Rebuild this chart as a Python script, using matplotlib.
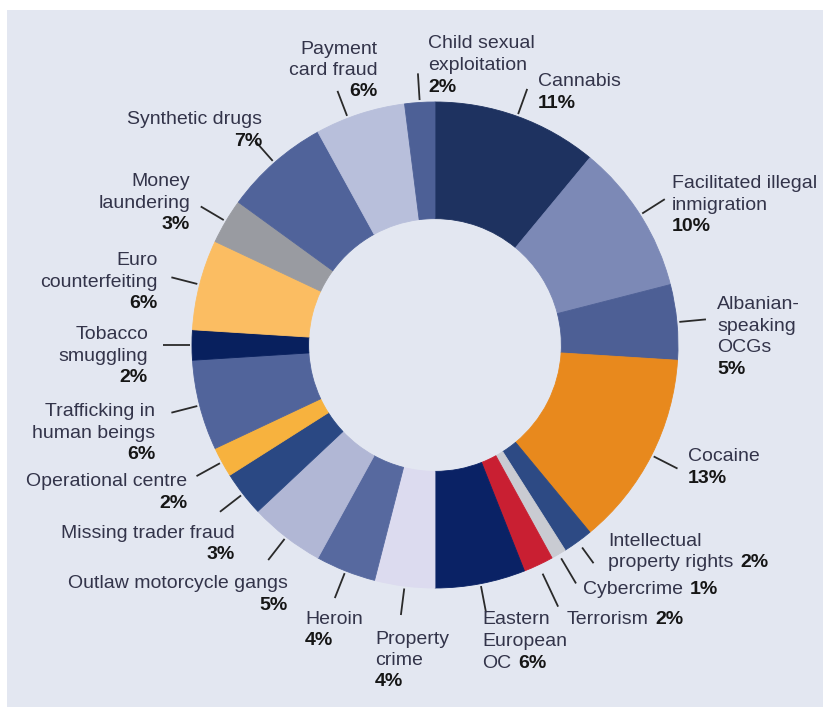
import numpy as np
import matplotlib
matplotlib.use("Agg")
import matplotlib.pyplot as plt
from matplotlib.patches import Rectangle

# ---------------- data ----------------
categories = [
    "Cannabis", "Facilitated illegal\ninmigration", "Albanian-\nspeaking\nOCGs", "Cocaine",
    "Intellectual\nproperty rights", "Cybercrime", "Terrorism", "Eastern\nEuropean\nOC",
    "Property\ncrime", "Heroin", "Outlaw motorcycle gangs", "Missing trader fraud",
    "Operational centre", "Trafficking in\nhuman beings", "Tobacco\nsmuggling",
    "Euro\ncounterfeiting", "Money\nlaundering", "Synthetic drugs", "Payment\ncard fraud",
    "Child sexual\nexploitation",
]
shares = [11, 10, 5, 13, 2, 1, 2, 6, 4, 4, 5, 3, 2, 6, 2, 6, 3, 7, 6, 2]
colors = [
    "#1e3260", "#7c89b6", "#4d5f95", "#e8891d", "#2d4a84", "#c9cbd2", "#c91f32",
    "#0a2265", "#dcdbef", "#57699f", "#b1b7d5", "#2a4883", "#f7b23e", "#51649b",
    "#08205e", "#fbbd62", "#999ba1", "#50639a", "#b8bfdb", "#4d6096",
]

# ---------------- layout ----------------
W, H = 823, 707
CX, CY, R = 435, 345, 243          # donut centre / radius in pixels
BG = "#e3e7f1"

# label anchor (pixels): x, y of first line, alignment, percent mode
label_layout = [
    (538, 80, "left", "below"),
    (672, 182, "left", "below"),
    (717, 303, "left", "below"),
    (688, 455, "left", "below"),
    (608, 539, "left", "inline"),
    (583, 588, "left", "inline"),
    (567, 617, "left", "inline"),
    (482, 618, "left", "inline"),
    (375, 637, "left", "below"),
    (305, 617, "left", "below"),
    (288, 582, "right", "below"),
    (235, 531, "right", "below"),
    (187, 480, "right", "below"),
    (155, 410, "right", "below"),
    (148, 333, "right", "below"),
    (158, 259, "right", "below"),
    (190, 180, "right", "below"),
    (262, 118, "right", "below"),
    (378, 47, "right", "below"),
    (428, 42, "left", "below"),
]
# leader radii (inner, outer) relative to donut radius, and angular offset (deg)
leader_r = [(1.01, 1.12)] * len(shares)
leader_r[5] = (1.02, 1.14)
leader_r[6] = (1.04, 1.19)
leader_r[4] = (1.03, 1.11)
leader_rot = [0.0] * len(shares)
leader_rot[18] = 3.0

LINE = 21.5  # pixel line spacing

def px(x, y):
    return (x - CX) / R, (CY - y) / R

fig = plt.figure(figsize=(W / 100, H / 100), dpi=100, facecolor="white")
ax = fig.add_axes([0, 0, 1, 1])
ax.patch.set_alpha(0)
ax.add_patch(Rectangle((7 / W, 0), 1 - 7 / W, 1 - 10 / H,
                       transform=ax.transAxes, facecolor=BG,
                       edgecolor="none", zorder=-10))

wedges, _ = ax.pie(shares, colors=colors, startangle=90, counterclock=False,
                   radius=1.0, wedgeprops=dict(width=0.48, linewidth=0.6))
for w, c in zip(wedges, colors):
    w.set_edgecolor(c)
ax.set_xlim(-CX / R, (W - CX) / R)
ax.set_ylim((CY - H) / R, CY / R)
ax.set_aspect("equal", adjustable="box")
ax.set_xticks([])
ax.set_yticks([])
for s in ax.spines.values():
    s.set_visible(False)

font = ["Liberation Sans Narrow", "Liberation Sans", "DejaVu Sans"]
FS = 14
txt_color = "#33344a"
pct_color = "#161616"

for w, name, val, (lx, ly, ha, mode), (r0, r1), rot in zip(
        wedges, categories, shares, label_layout, leader_r, leader_rot):
    mid = np.deg2rad((w.theta1 + w.theta2) / 2 + rot)
    ax.plot([r0 * np.cos(mid), r1 * np.cos(mid)], [r0 * np.sin(mid), r1 * np.sin(mid)],
            color="#2a2a2a", lw=1.3, solid_capstyle="butt")
    lines = name.split("\n")
    last = None
    for i, ln in enumerate(lines):
        x, y = px(lx, ly + i * LINE)
        last = ax.text(x, y, ln, ha=ha, va="center_baseline", fontsize=FS,
                       family=font, color=txt_color)
    pct = f"{val}%"
    if mode == "below":
        x, y = px(lx, ly + len(lines) * LINE)
        ax.text(x, y, pct, ha=ha, va="center_baseline", fontsize=FS,
                family=font, color=pct_color, fontweight="bold")
    else:
        ax.annotate(pct, xy=(1, 0), xycoords=last, xytext=(5, 0),
                    textcoords="offset points", ha="left", va="bottom",
                    fontsize=FS, family=font, color=pct_color, fontweight="bold")

fig.savefig("out.png", dpi=100, facecolor="white")
